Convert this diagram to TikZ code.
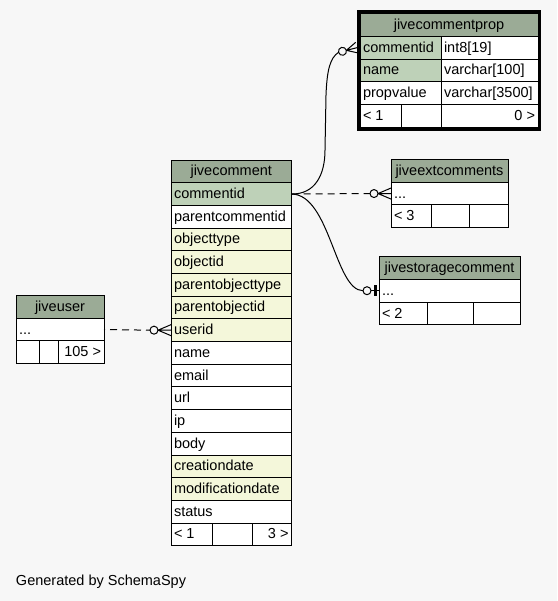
\documentclass[tikz,border=0pt]{standalone}
\usepackage{fontspec}
\setmainfont{Liberation Sans}
\definecolor{bg}{HTML}{F7F7F7}
\definecolor{hdr}{HTML}{9BAB96}
\definecolor{pk}{HTML}{BED1B8}
\definecolor{idx}{HTML}{F4F7DA}
\tikzset{
  cellbox/.style={rectangle, draw=black, line width=0.9pt, inner sep=0pt, outer sep=0pt},
  celltext/.style={inner sep=0pt, outer sep=0pt, font=\fontsize{14.5}{17}\selectfont, text=black},
  edge/.style={draw=black, line width=1pt},
  dashededge/.style={edge, dash pattern=on 7pt off 5pt},
  focusframe/.style={draw=black, line width=3pt},
}
% cell with left / right / centred text: name, x1, y1, x2, y2, fill, text
\newcommand{\cellL}[7]{%
  \node[cellbox,fill=#6,minimum width={(#4)-(#2)},minimum height={(#5)-(#3)}] (#1) at ({((#2)+(#4))/2},{((#3)+(#5))/2}) {};
  \node[celltext,anchor=base west] (#1-t) at ([xshift=3pt,yshift=-4.5pt]#1.west) {#7};}
\newcommand{\cellR}[7]{%
  \node[cellbox,fill=#6,minimum width={(#4)-(#2)},minimum height={(#5)-(#3)}] (#1) at ({((#2)+(#4))/2},{((#3)+(#5))/2}) {};
  \node[celltext,anchor=base east] (#1-t) at ([xshift=-3pt,yshift=-4.5pt]#1.east) {#7};}
\newcommand{\cellC}[7]{%
  \node[cellbox,fill=#6,minimum width={(#4)-(#2)},minimum height={(#5)-(#3)}] (#1) at ({((#2)+(#4))/2},{((#3)+(#5))/2}) {};
  \node[celltext,anchor=base] (#1-t) at ([yshift=-4.5pt]#1.center) {#7};}
% zero-or-many end (circle + crow's foot); #1 end coordinate, #2 rotation, #3 circle offset, #4 apex offset
\newcommand{\crowend}[4]{%
  \begin{scope}[shift={(#1)},rotate=#2]
    \draw[edge] (-#4,0) -- (0,-5.5) (-#4,0) -- (0,0) (-#4,0) -- (0,5.5);
    \draw[edge,fill=bg] (-#3,0) circle[radius=4pt];
    \coordinate (#1-in) at ({-(#3)-4},0);
  \end{scope}}
% zero-or-one end (circle + bar)
\newcommand{\teeend}[1]{%
  \begin{scope}[shift={(#1)}]
    \draw[edge] (-8,0) -- (0,0);
    \draw[line width=3pt] (-4,-5.5) -- (-4,5.5);
    \draw[edge,fill=bg] (-12,0) circle[radius=4pt];
    \coordinate (#1-in) at (-16,0);
  \end{scope}}
\newcommand{\jr}[1]{(160+#1*22.69)}
\newcommand{\pr}[1]{(13.5+#1*22.8)}
\begin{document}
\begin{tikzpicture}[x=1pt,y=-1pt]
\useasboundingbox[fill=bg] (0,0) rectangle (557,601);

% ---------- jivecommentprop ----------
\cellC{cph}{360}{\pr{0}}{538}{\pr{1}}{hdr}{jivecommentprop}
\cellL{cp1a}{360}{\pr{1}}{441}{\pr{2}}{pk}{commentid}
\cellL{cp1b}{441}{\pr{1}}{538}{\pr{2}}{white}{int8[19]}
\cellL{cp2a}{360}{\pr{2}}{441}{\pr{3}}{pk}{name}
\cellL{cp2b}{441}{\pr{2}}{538}{\pr{3}}{white}{varchar[100]}
\cellL{cp3a}{360}{\pr{3}}{441}{\pr{4}}{white}{propvalue}
\cellL{cp3b}{441}{\pr{3}}{538}{\pr{4}}{white}{varchar[3500]}
\cellL{cpf1}{360}{\pr{4}}{401}{\pr{5}}{white}{< 1}
\cellL{cpf2}{401}{\pr{4}}{441}{\pr{5}}{white}{}
\cellR{cpf3}{441}{\pr{4}}{538}{\pr{5}}{white}{0 >}
\node[focusframe,inner sep=0pt,outer sep=0pt,minimum width=181pt,minimum height=118pt] (cpframe) at (449,70.5) {};

% ---------- jivecomment ----------
\cellC{jch}{171}{\jr{0}}{291.5}{\jr{1}}{hdr}{jivecomment}
\cellL{jc1}{171}{\jr{1}}{291.5}{\jr{2}}{pk}{commentid}
\cellL{jc2}{171}{\jr{2}}{291.5}{\jr{3}}{white}{parentcommentid}
\cellL{jc3}{171}{\jr{3}}{291.5}{\jr{4}}{idx}{objecttype}
\cellL{jc4}{171}{\jr{4}}{291.5}{\jr{5}}{idx}{objectid}
\cellL{jc5}{171}{\jr{5}}{291.5}{\jr{6}}{idx}{parentobjecttype}
\cellL{jc6}{171}{\jr{6}}{291.5}{\jr{7}}{idx}{parentobjectid}
\cellL{jc7}{171}{\jr{7}}{291.5}{\jr{8}}{idx}{userid}
\cellL{jc8}{171}{\jr{8}}{291.5}{\jr{9}}{white}{name}
\cellL{jc9}{171}{\jr{9}}{291.5}{\jr{10}}{white}{email}
\cellL{jc10}{171}{\jr{10}}{291.5}{\jr{11}}{white}{url}
\cellL{jc11}{171}{\jr{11}}{291.5}{\jr{12}}{white}{ip}
\cellL{jc12}{171}{\jr{12}}{291.5}{\jr{13}}{white}{body}
\cellL{jc13}{171}{\jr{13}}{291.5}{\jr{14}}{idx}{creationdate}
\cellL{jc14}{171}{\jr{14}}{291.5}{\jr{15}}{idx}{modificationdate}
\cellL{jc15}{171}{\jr{15}}{291.5}{\jr{16}}{white}{status}
\cellL{jcf1}{171}{\jr{16}}{212}{\jr{17}}{white}{< 1}
\cellL{jcf2}{212}{\jr{16}}{252}{\jr{17}}{white}{}
\cellR{jcf3}{252}{\jr{16}}{291.5}{\jr{17}}{white}{3 >}

% ---------- jiveextcomments ----------
\cellC{exh}{391}{159.5}{508}{182.2}{hdr}{jiveextcomments}
\cellL{ex1}{391}{182.2}{508}{204.9}{white}{...}
\cellL{exf1}{391}{204.9}{431}{227.6}{white}{< 3}
\cellL{exf2}{431}{204.9}{469}{227.6}{white}{}
\cellL{exf3}{469}{204.9}{508}{227.6}{white}{}

% ---------- jivestoragecomment ----------
\cellC{sth}{379}{256.5}{520}{279.3}{hdr}{jivestoragecomment}
\cellL{st1}{379}{279.3}{520}{302.1}{white}{...}
\cellL{stf1}{379}{302.1}{427}{324.9}{white}{< 2}
\cellL{stf2}{427}{302.1}{473}{324.9}{white}{}
\cellL{stf3}{473}{302.1}{520}{324.9}{white}{}

% ---------- jiveuser ----------
\cellC{juh}{16}{295.5}{104}{318.2}{hdr}{jiveuser}
\cellL{ju1}{16}{318.2}{104}{340.9}{white}{...}
\cellL{juf1}{16}{340.9}{39}{363.6}{white}{}
\cellL{juf2}{39}{340.9}{58}{363.6}{white}{}
\cellR{juf3}{58}{340.9}{104}{363.6}{white}{105 >}

% ---------- connectors ----------
\coordinate (e1) at ([xshift=-3pt]cp1a.west);
\coordinate (e2) at (ex1.west);
\coordinate (e3) at (st1.west);
\coordinate (e4) at (jc7.west);
\crowend{e1}{14}{15}{11}
\crowend{e2}{0}{17}{13}
\teeend{e3}
\crowend{e4}{0}{17}{13}

\draw[edge] (jc1.east) .. controls (315,194.3) and (325,175) .. (325,150)
  -- (326,95) .. controls (327,70) and (330,58) .. (e1-in);
\draw[dashededge] (jc1.east) -- (e2-in);
\draw[edge] (jc1.east) .. controls (330,194.3) and (335,290.7) .. (e3-in);
\draw[dashededge,dash phase=6pt] (ju1.east) -- (e4-in);

% ---------- footer text ----------
\node[celltext,anchor=base west] (gen) at (16,585) {Generated by SchemaSpy};
\end{tikzpicture}
\end{document}
